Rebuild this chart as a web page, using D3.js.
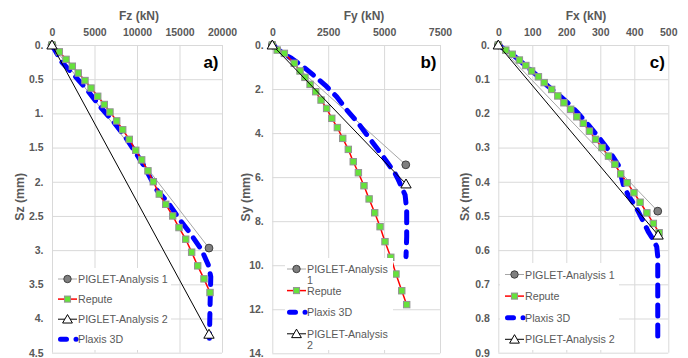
<!DOCTYPE html>
<html>
<head>
<meta charset="utf-8">
<script src="https://cdn.jsdelivr.net/npm/d3@7"></script>
<style>
  html, body { margin: 0; padding: 0; background: #fff; }
  svg { display: block; font-family: "Liberation Sans", Arial, sans-serif; }
</style>
</head>
<body>
<svg id="chart" width="688" height="358"></svg>
<script>
// ---- a) vertical load Fz (kN) vs settlement Sz (mm)
const fzTicks = [0, 5000, 10000, 15000, 20000];
const fzTickLabels = ["0", "5000", "10000", "15000", "20000"];
const szTicks = [0, 0.5, 1, 1.5, 2, 2.5, 3, 3.5, 4, 4.5];
const szTickLabels = ["0.", "0.5", "1.", "1.5", "2.", "2.5", "3.", "3.5", "4.", "4.5"];

const aPiglet1F = [0, 18470];
const aPiglet1S = [0, 2.97];
const aPiglet2F = [0, 18470];
const aPiglet2S = [0, 4.23];
const aReputeF = [0, 860, 1650, 2390, 3090, 3880, 4590, 5380, 6150, 6820, 7610, 8320, 9090, 9850, 10550, 11290, 11920, 12620, 13380, 14200, 14940, 15730, 16430, 17140, 17880, 18590];
const aReputeS = [0, 0.10, 0.21, 0.31, 0.41, 0.52, 0.63, 0.75, 0.87, 0.98, 1.11, 1.24, 1.38, 1.54, 1.68, 1.84, 2.00, 2.18, 2.33, 2.50, 2.67, 2.84, 3.03, 3.23, 3.42, 3.62];
const aPlaxisF = [0, 1140, 2590, 4150, 5650, 7210, 8590, 9770, 10740, 12320, 13680, 15060, 16240, 17610, 18400, 18680, 18600, 18520];
const aPlaxisS = [0, 0.25, 0.44, 0.66, 0.90, 1.12, 1.34, 1.56, 1.75, 2.12, 2.31, 2.56, 2.75, 3.00, 3.22, 3.39, 3.78, 4.29];

// ---- b) lateral load Fy (kN) vs displacement Sy (mm)
const fyTicks = [0, 2500, 5000, 7500];
const fyTickLabels = ["0", "2500", "5000", "7500"];
const syTicks = [0, 2, 4, 6, 8, 10, 12, 14];
const syTickLabels = ["0.", "2.", "4.", "6.", "8.", "10.", "12.", "14."];

const bPiglet1F = [0, 5970];
const bPiglet1S = [0, 5.44];
const bPiglet2F = [0, 5980];
const bPiglet2S = [0, 6.31];
const bReputeF = [0, 220, 540, 980, 1240, 1460, 1690, 1940, 2180, 2430, 2660, 2910, 3150, 3400, 3620, 3850, 4100, 4330, 4580, 4820, 5040, 5300, 5530, 5790, 6010];
const bReputeS = [0, 0.23, 0.38, 0.83, 1.18, 1.47, 1.79, 2.12, 2.50, 2.88, 3.33, 3.75, 4.24, 4.74, 5.30, 5.80, 6.39, 6.99, 7.62, 8.25, 8.93, 9.64, 10.40, 11.16, 11.79];
const bPlaxisF = [0, 490, 870, 1390, 1830, 2360, 2880, 3330, 3850, 4290, 4740, 5120, 5490, 5640, 5940, 6010, 6010, 5980];
const bPlaxisS = [0, 0.38, 0.61, 0.99, 1.36, 1.82, 2.35, 2.95, 3.56, 4.16, 4.77, 5.30, 5.83, 6.13, 6.81, 7.49, 8.71, 9.61];

// ---- c) lateral load Fx (kN) vs displacement Sx (mm)
const fxTicks = [0, 100, 200, 300, 400, 500];
const fxTickLabels = ["0", "100", "200", "300", "400", "500"];
const sxTicks = [0, 0.1, 0.2, 0.3, 0.4, 0.5, 0.6, 0.7, 0.8, 0.9];
const sxTickLabels = ["0.", "0.1", "0.2", "0.3", "0.4", "0.5", "0.6", "0.7", "0.8", "0.9"];

const cPiglet1F = [0, 469];
const cPiglet1S = [0, 0.486];
const cPiglet2F = [0, 470];
const cPiglet2S = [0, 0.556];
const cReputeF = [0, 22, 41, 62, 81, 98, 118, 135, 157, 175, 193, 213, 231, 250, 268, 286, 305, 324, 343, 360, 379, 399, 417, 437, 456, 473];
const cReputeS = [0, 0.015, 0.027, 0.044, 0.060, 0.076, 0.093, 0.110, 0.130, 0.149, 0.169, 0.188, 0.210, 0.229, 0.252, 0.276, 0.300, 0.325, 0.349, 0.377, 0.403, 0.432, 0.460, 0.491, 0.522, 0.549];
const cPlaxisF = [0, 49, 79, 113, 142, 172, 206, 235, 265, 294, 324, 353, 368, 382, 407, 427, 441, 456, 466, 469, 469];
const cPlaxisS = [0, 0.034, 0.059, 0.088, 0.117, 0.141, 0.171, 0.200, 0.234, 0.268, 0.307, 0.351, 0.409, 0.439, 0.478, 0.517, 0.546, 0.570, 0.590, 0.619, 0.853];

const seriesNames = {
  piglet1: "PIGLET-Analysis 1",
  repute: "Repute",
  piglet2: "PIGLET-Analysis 2",
  plaxis: "Plaxis 3D"
};

// ---- styling
const GRID = "#d9d9d9";
const TEXT = "#595959";
const styles = {
  piglet1: { stroke: "#a6a6a6", width: 1, marker: "circle" },
  repute:  { stroke: "#ff0000", width: 1.5, marker: "square" },
  piglet2: { stroke: "#000000", width: 1, marker: "triangle" },
  plaxis:  { stroke: "#0000ff", width: 5, dash: "11,9", marker: null }
};

const panels = [
  {
    tag: "a)", xTitle: "Fz (kN)", yTitle: "Sz (mm)",
    xTicks: fzTicks, xLabels: fzTickLabels, yTicks: szTicks, yLabels: szTickLabels,
    xMax: 20000, yMax: 4.5,
    box: { l: 52, r: 222, t: 45, b: 352.7 }, xTitleX: 139, yTitleX: 20,
    series: {
      piglet1: [aPiglet1F, aPiglet1S], piglet2: [aPiglet2F, aPiglet2S],
      repute: [aReputeF, aReputeS], plaxis: [aPlaxisF, aPlaxisS]
    },
    legend: { order: ["piglet1", "repute", "piglet2", "plaxis"], x: 53, y: 268, w: 118, h: 82,
              lineX: 58, textX: 78, row0: 279, step: 20.1, wrap: 120 }
  },
  {
    tag: "b)", xTitle: "Fy (kN)", yTitle: "Sy (mm)",
    xTicks: fyTicks, xLabels: fyTickLabels, yTicks: syTicks, yLabels: syTickLabels,
    xMax: 7500, yMax: 14,
    box: { l: 272.3, r: 440, t: 45, b: 353.3 }, xTitleX: 364, yTitleX: 246,
    series: {
      piglet1: [bPiglet1F, bPiglet1S], piglet2: [bPiglet2F, bPiglet2S],
      repute: [bReputeF, bReputeS], plaxis: [bPlaxisF, bPlaxisS]
    },
    legend: { order: ["piglet1", "repute", "plaxis", "piglet2"], x: 285, y: 258, w: 108, h: 92,
              lineX: 287, textX: 307, row0: 269, step: 21.6, wrap: 84 }
  },
  {
    tag: "c)", xTitle: "Fx (kN)", yTitle: "Sx (mm)",
    xTicks: fxTicks, xLabels: fxTickLabels, yTicks: sxTicks, yLabels: sxTickLabels,
    xMax: 500, yMax: 0.9,
    box: { l: 498.3, r: 668.3, t: 45, b: 352.7 }, xTitleX: 586, yTitleX: 465,
    series: {
      piglet1: [cPiglet1F, cPiglet1S], piglet2: [cPiglet2F, cPiglet2S],
      repute: [cReputeF, cReputeS], plaxis: [cPlaxisF, cPlaxisS]
    },
    legend: { order: ["piglet1", "repute", "plaxis", "piglet2"], x: 500, y: 263, w: 119, h: 87,
              lineX: 505, textX: 525, row0: 274.5, step: 21.6, wrap: 120 }
  }
];

const svg = d3.select("#chart");

function drawMarker(g, kind, cx, cy, scale = 1) {
  if (kind === "circle") {
    g.append("circle").attr("cx", cx).attr("cy", cy).attr("r", 3.9 * scale)
      .attr("fill", "#7f7f7f").attr("stroke", "#3f3f3f").attr("stroke-width", 1);
  } else if (kind === "square") {
    const s = 6.4 * scale;
    g.append("rect").attr("x", cx - s / 2).attr("y", cy - s / 2).attr("width", s).attr("height", s)
      .attr("fill", "#66e23c").attr("stroke", "#939393").attr("stroke-width", 1);
  } else if (kind === "triangle") {
    g.append("path")
      .attr("d", d3.symbol().type(d3.symbolTriangle).size(46 * scale * scale)())
      .attr("transform", `translate(${cx},${cy + 1})`)
      .attr("fill", "#fff").attr("stroke", "#000").attr("stroke-width", 1);
  }
}

panels.forEach(p => {
  const { l, r, t, b } = p.box;
  const x = d3.scaleLinear().domain([0, p.xMax]).range([l, r]);
  const y = d3.scaleLinear().domain([0, p.yMax]).range([t, b]);
  const g = svg.append("g");

  // top axis with vertical gridlines
  const xAxis = g.append("g").attr("transform", `translate(0,${t})`)
    .call(d3.axisTop(x).tickValues(p.xTicks).tickSize(-(b - t)).tickPadding(9.5)
      .tickFormat((d, i) => p.xLabels[i]));
  // left axis with horizontal gridlines
  const yAxis = g.append("g").attr("transform", `translate(${l},0)`)
    .call(d3.axisLeft(y).tickValues(p.yTicks).tickSize(-(r - l)).tickPadding(8.5)
      .tickFormat((d, i) => p.yLabels[i]));

  [xAxis, yAxis].forEach(ax => {
    ax.select(".domain").remove();
    ax.selectAll(".tick line").attr("stroke", GRID).attr("stroke-width", 1);
    ax.selectAll(".tick text").attr("fill", TEXT).attr("font-size", 10.5)
      .attr("font-weight", "bold").attr("font-family", "Liberation Sans, Arial, sans-serif");
  });

  // axis titles
  g.append("text").attr("x", p.xTitleX).attr("y", 20).attr("text-anchor", "middle")
    .attr("fill", TEXT).attr("font-size", 12).attr("font-weight", "bold").text(p.xTitle);
  g.append("text")
    .attr("transform", `translate(${p.yTitleX},${(t + b) / 2 - 2}) rotate(-90)`)
    .attr("text-anchor", "middle").attr("dominant-baseline", "central")
    .attr("fill", TEXT).attr("font-size", 12.3).attr("font-weight", "bold").text(p.yTitle);

  // panel tag
  g.append("text").attr("x", r - 3.5).attr("y", 68).attr("text-anchor", "end")
    .attr("fill", "#000").attr("font-size", 17).attr("font-weight", "bold").text(p.tag);

  const line = d3.line().x(d => x(d[0])).y(d => y(d[1]));
  const pts = key => p.series[key][0].map((f, i) => [f, p.series[key][1][i]]);

  ["piglet1", "plaxis", "repute", "piglet2"].forEach(key => {
    const st = styles[key];
    const data = pts(key);
    g.append("path").datum(data).attr("d", line)
      .attr("fill", "none").attr("stroke", st.stroke).attr("stroke-width", st.width)
      .attr("stroke-dasharray", st.dash || null)
      .attr("stroke-linecap", st.dash ? "round" : "butt")
      .attr("stroke-linejoin", "round");
    if (st.marker) {
      const mg = g.append("g");
      data.forEach(d => drawMarker(mg, st.marker, x(d[0]), y(d[1])));
    }
  });

  // legend
  const L = p.legend;
  const lg = g.append("g");
  lg.append("rect").attr("x", L.x).attr("y", L.y).attr("width", L.w).attr("height", L.h).attr("fill", "#fff");
  L.order.forEach((key, i) => {
    const st = styles[key];
    const cy = L.row0 + i * L.step;
    const x0 = L.lineX, x1 = L.textX - 1;
    if (st.dash) {
      lg.append("line").attr("x1", x0 + 2.5).attr("x2", x1).attr("y1", cy).attr("y2", cy)
        .attr("stroke", st.stroke).attr("stroke-width", st.width)
        .attr("stroke-linecap", "round").attr("stroke-dasharray", "6,9.5,0.1,100");
    } else {
      lg.append("line").attr("x1", x0).attr("x2", x1).attr("y1", cy).attr("y2", cy)
        .attr("stroke", st.stroke).attr("stroke-width", st.width);
      drawMarker(lg, st.marker, (x0 + x1) / 2, cy, 0.95);
    }
    const txt = lg.append("text").attr("x", L.textX).attr("y", cy)
      .attr("dominant-baseline", "central").attr("fill", TEXT).attr("font-size", 10.7)
      .text(seriesNames[key]);
    // wrap long labels onto a second line when the legend is narrow
    if (txt.node().getComputedTextLength() > L.wrap) {
      const words = seriesNames[key].split(" ");
      const last = words.pop();
      txt.text(null);
      txt.append("tspan").attr("x", L.textX).attr("y", cy).text(words.join(" "));
      txt.append("tspan").attr("x", L.textX).attr("y", cy + 11).text(last);
    }
  });
});
</script>
</body>
</html>
